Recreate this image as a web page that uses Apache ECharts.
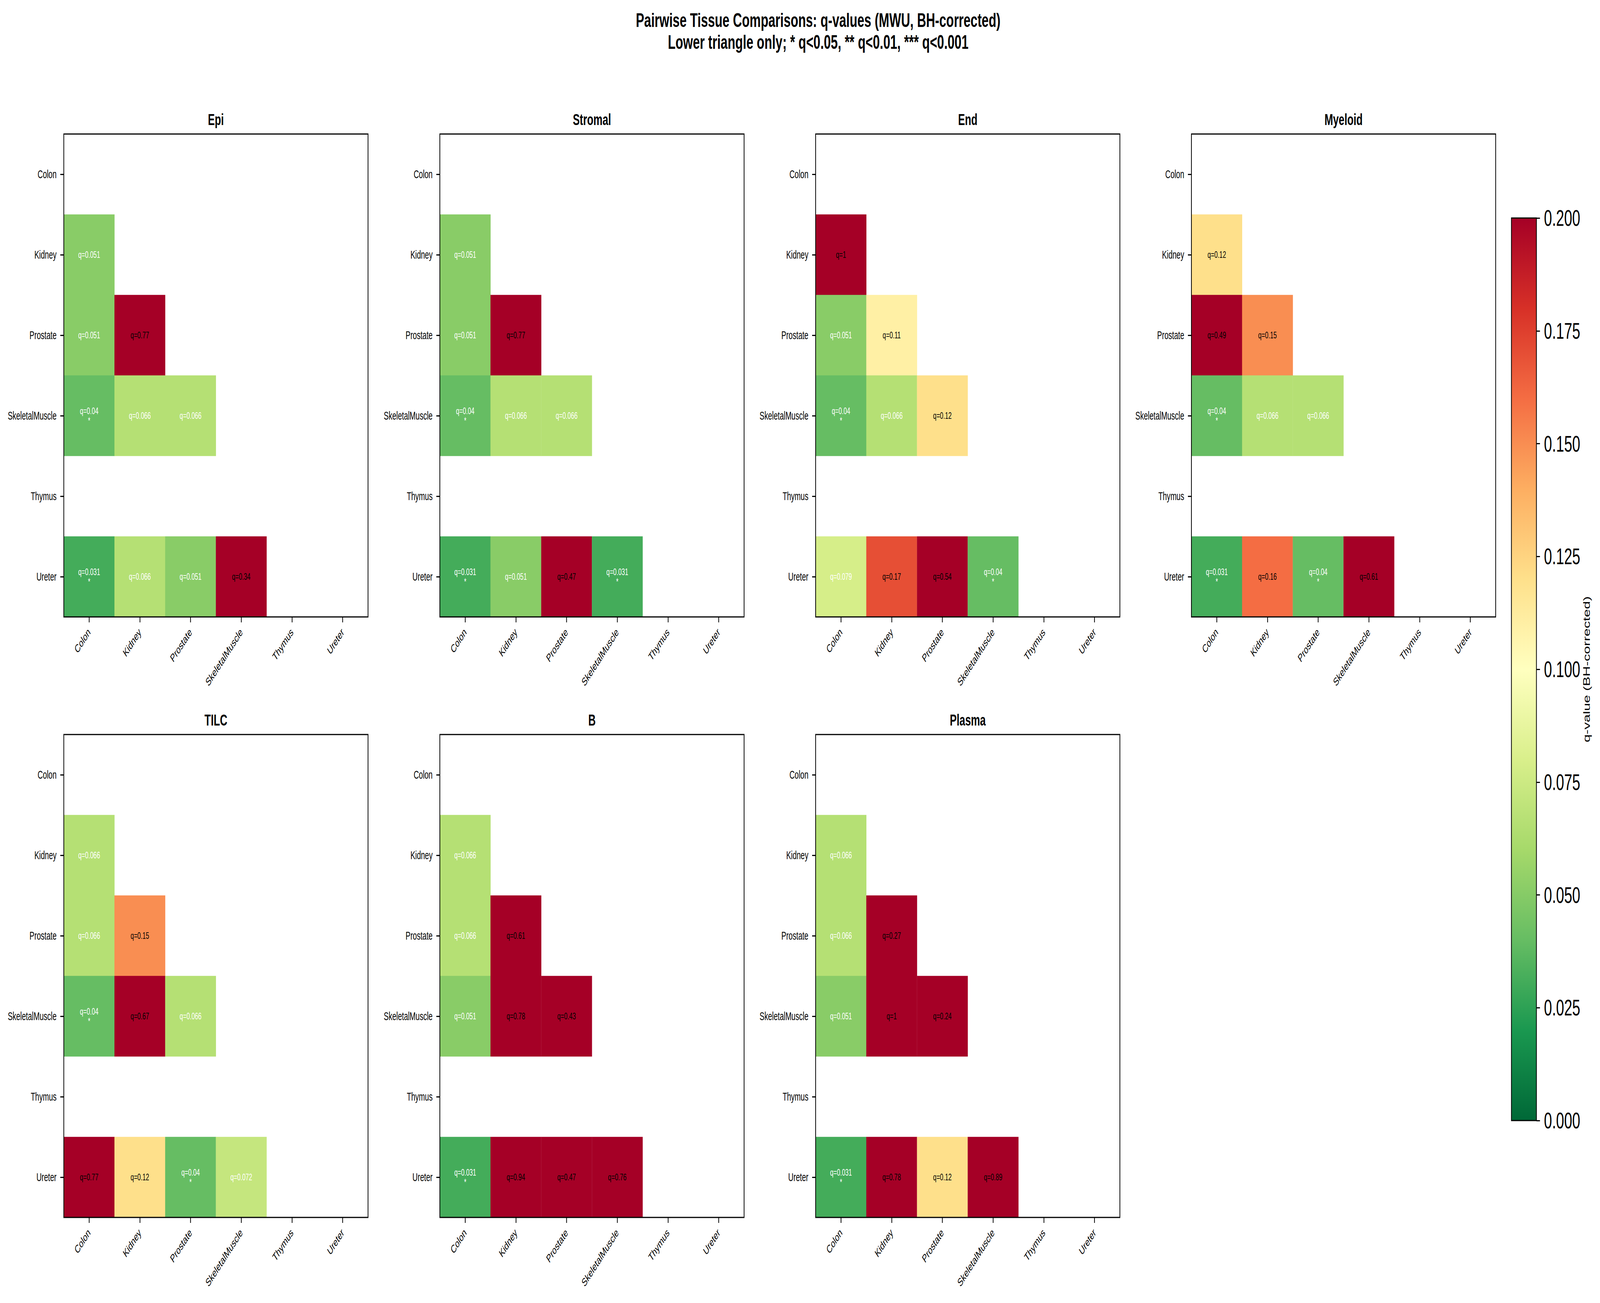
<!DOCTYPE html>
<html>
<head>
<meta charset="utf-8">
<script src="https://cdn.jsdelivr.net/npm/echarts@6/dist/echarts.min.js"></script>
<style>
html,body{margin:0;padding:0;background:#fff;overflow:hidden;}
#chart{width:6395px;height:3335px;transform-origin:0 0;}
</style>
</head>
<body>
<div id="chart"></div>
<script>
// ---------- data ----------
const tissues = ['Colon', 'Kidney', 'Prostate', 'SkeletalMuscle', 'Thymus', 'Ureter'];
const panelNames = ['Epi', 'Stromal', 'End', 'Myeloid', 'TILC', 'B', 'Plasma'];
// lower triangle: row i holds q-values vs columns 0..i-1 ; null = not tested
const qEpi = [[], [0.051], [0.051, 0.77], [0.04, 0.066, 0.066], [null, null, null, null], [0.031, 0.066, 0.051, 0.34, null]];
const qStromal = [[], [0.051], [0.051, 0.77], [0.04, 0.066, 0.066], [null, null, null, null], [0.031, 0.051, 0.47, 0.031, null]];
const qEnd = [[], [1], [0.051, 0.11], [0.04, 0.066, 0.12], [null, null, null, null], [0.079, 0.17, 0.54, 0.04, null]];
const qMyeloid = [[], [0.12], [0.49, 0.15], [0.04, 0.066, 0.066], [null, null, null, null], [0.031, 0.16, 0.04, 0.61, null]];
const qTILC = [[], [0.066], [0.066, 0.15], [0.04, 0.67, 0.066], [null, null, null, null], [0.77, 0.12, 0.04, 0.072, null]];
const qB = [[], [0.066], [0.066, 0.61], [0.051, 0.78, 0.43], [null, null, null, null], [0.031, 0.94, 0.47, 0.76, null]];
const qPlasma = [[], [0.066], [0.066, 0.27], [0.051, 1, 0.24], [null, null, null, null], [0.031, 0.78, 0.12, 0.89, null]];
const panelData = [qEpi, qStromal, qEnd, qMyeloid, qTILC, qB, qPlasma];
const qMin = 0, qMax = 0.2, qStep = 0.025;
const mainTitle = ['Pairwise Tissue Comparisons: q-values (MWU, BH-corrected)', 'Lower triangle only; * q<0.05, ** q<0.01, *** q<0.001'];
const cbarLabel = 'q-value (BH-corrected)';

// ---------- page fit (window may be narrower than the 6395 design width) ----------
const DESIGN_W = 6395, DESIGN_H = 3335;
const el = document.getElementById('chart');
const sx = Math.min(1, window.innerWidth / DESIGN_W), sy = Math.min(1, window.innerHeight / DESIGN_H);
el.style.transform = 'scale(' + sx + ',' + sy + ')';

// ---------- styling ----------
const FONT = '"Liberation Sans", Arial, Helvetica, sans-serif';
const RdYlGn_r = ['#006837', '#1a9850', '#66bd63', '#a6d96a', '#d9ef8b', '#ffffbf', '#fee08b', '#fdae61', '#f46d43', '#d73027', '#a50026'];
const gridLefts = [255, 1758, 3260, 4762];
const gridTops = [343, 1880];
const W = 1216, H = 1236;

function fmtQ(q) { return String(Number(q.toPrecision(2))); }
function stars(q) { return q < 0.001 ? '***' : q < 0.01 ? '**' : q < 0.05 ? '*' : ''; }

const grids = [], xAxes = [], yAxes = [], series = [], graphics = [];

panelData.forEach((rows, k) => {
  const col = k % 4, row = Math.floor(k / 4);
  const left = gridLefts[col], top = gridTops[row];
  grids.push({
    left: left, top: top, width: W, height: H,
    show: true, borderColor: '#000', borderWidth: 3, backgroundColor: 'transparent',
    z: 10, containLabel: false, outerBoundsMode: 'none'
  });
  xAxes.push({
    type: 'category', gridIndex: k, data: tissues, position: 'bottom',
    axisLine: { show: false },
    axisTick: { show: true, alignWithLabel: true, length: 14, lineStyle: { color: '#000', width: 3 } },
    axisLabel: { rotate: 45, fontSize: 29, color: '#000', fontFamily: FONT, margin: 34, interval: 0 },
    splitLine: { show: false }, splitArea: { show: false }, z: 10
  });
  yAxes.push({
    type: 'category', gridIndex: k, data: tissues, inverse: true,
    axisLine: { show: false },
    axisTick: { show: true, alignWithLabel: true, length: 14, lineStyle: { color: '#000', width: 3 } },
    axisLabel: { fontSize: 29, color: '#000', fontFamily: FONT, margin: 29, interval: 0 },
    splitLine: { show: false }, splitArea: { show: false }, z: 10
  });
  const cells = [];
  rows.forEach((r, i) => {
    r.forEach((q, j) => {
      if (q === null || q === undefined) return;
      cells.push({ value: [j, i, q], label: { color: q < 0.1 ? '#ffffff' : '#000000' } });
    });
  });
  series.push({
    type: 'heatmap', xAxisIndex: k, yAxisIndex: k, data: cells,
    label: {
      show: true, fontSize: 24, fontFamily: FONT, lineHeight: 25,
      formatter: p => { const q = p.value[2]; const s = stars(q); return 'q=' + fmtQ(q) + (s ? '\n' + s : ''); }
    },
    emphasis: { disabled: true }, silent: true
  });
  graphics.push({
    type: 'text', x: left + W / 2, y: top - 37,
    style: { text: panelNames[k], fontSize: 41, fontWeight: 'bold', fontFamily: FONT, fill: '#000', align: 'center', verticalAlign: 'middle' }
  });
});

// colorbar
const cb = panelData.length;
grids.push({ left: 6041, top: 558, width: 100, height: 2310, show: true, borderColor: '#000', borderWidth: 3, backgroundColor: 'transparent', z: 10, containLabel: false, outerBoundsMode: 'none' });
xAxes.push({ type: 'category', gridIndex: cb, data: [''], show: false });
yAxes.push({
  type: 'value', gridIndex: cb, min: qMin, max: qMax, interval: qStep, position: 'right',
  axisLine: { show: false },
  axisTick: { show: true, length: 14, lineStyle: { color: '#000', width: 3 } },
  axisLabel: { fontSize: 58, color: '#000', fontFamily: FONT, margin: 30, formatter: v => v.toFixed(3) },
  splitLine: { show: false },
  name: cbarLabel, nameLocation: 'middle', nameRotate: 90, nameGap: 183,
  nameTextStyle: { fontSize: 37, color: '#000', fontFamily: FONT }
});
series.push({
  type: 'bar', xAxisIndex: cb, yAxisIndex: cb, data: [qMax], barWidth: '100%', silent: true,
  itemStyle: { color: { type: 'linear', x: 0, y: 0, x2: 0, y2: 1, colorStops: RdYlGn_r.map((c, i) => ({ offset: 1 - i / 10, color: c })).reverse() } }
});

graphics.push({ type: 'text', x: 3270, y: 52, style: { text: mainTitle[0], fontSize: 50, fontWeight: 'bold', fontFamily: FONT, fill: '#000', align: 'center', verticalAlign: 'middle' } });
graphics.push({ type: 'text', x: 3270, y: 108, style: { text: mainTitle[1], fontSize: 50, fontWeight: 'bold', fontFamily: FONT, fill: '#000', align: 'center', verticalAlign: 'middle' } });

const chart = echarts.init(el, null, { renderer: 'svg', width: DESIGN_W, height: DESIGN_H });
chart.setOption({
  backgroundColor: '#ffffff',
  animation: false,
  grid: grids,
  xAxis: xAxes,
  yAxis: yAxes,
  visualMap: {
    type: 'continuous', min: qMin, max: qMax, dimension: 2, seriesIndex: panelData.map((_, i) => i),
    inRange: { color: RdYlGn_r }, show: false, calculable: false
  },
  graphic: graphics,
  series: series
});
</script>
</body>
</html>
